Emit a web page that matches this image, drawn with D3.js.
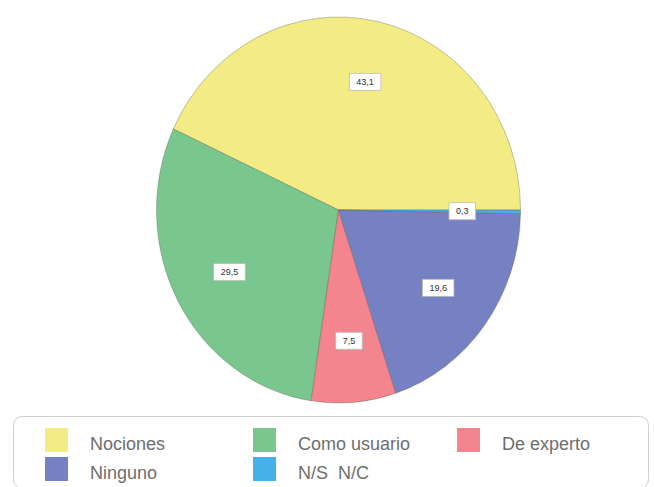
<!DOCTYPE html>
<html>
<head>
<meta charset="utf-8">
<script src="https://cdn.jsdelivr.net/npm/d3@7"></script>
<style>
  html, body { margin: 0; padding: 0; background: #fff; }
  svg { display: block; }
</style>
</head>
<body>
<svg id="chart" width="654" height="487"></svg>
<script>
// Nivel de conocimiento (%)
const categories = ["Nociones", "Como usuario", "De experto", "Ninguno", "N/S  N/C"];
const values = [43.1, 29.5, 7.5, 19.6, 0.3];
const valueLabels = ["43,1", "29,5", "7,5", "19,6", "0,3"];
const colors = ["#f3ec84", "#79c78e", "#f4848d", "#7681c3", "#45b1e6"];

const svg = d3.select("#chart");
const W = 654, H = 487;

// pie geometry (slightly taller than wide)
const cx = 338.5, cy = 210, rx = 182, ry = 193;
const sy = ry / rx;

const data = categories.map((c, i) => ({ cat: c, value: values[i], label: valueLabels[i], color: colors[i] }));

// slices start at 3 o'clock and run counter-clockwise
const pie = d3.pie()
  .value(d => d.value)
  .sort(null)
  .startAngle(Math.PI / 2)
  .endAngle(Math.PI / 2 - 2 * Math.PI);

const arcs = pie(data);
const arc = d3.arc().innerRadius(0).outerRadius(rx);

const g = svg.append("g").attr("transform", `translate(${cx},${cy}) scale(1,${sy})`);
g.selectAll("path")
  .data(arcs)
  .join("path")
  .attr("d", arc)
  .attr("fill", d => d.data.color)
  .attr("stroke", "rgba(90,90,80,0.45)")
  .attr("stroke-width", 0.8)
  .attr("vector-effect", "non-scaling-stroke");

// value labels in white boxes
const labelArc = d3.arc().innerRadius(rx * 0.68).outerRadius(rx * 0.68);
const lg = svg.append("g").attr("transform", `translate(${cx},${cy})`);
const lab = lg.selectAll("g.lab")
  .data(arcs)
  .join("g")
  .attr("class", "lab")
  .attr("transform", d => {
    const [x, y] = labelArc.centroid(d);
    return `translate(${x},${y * sy})`;
  });

lab.append("text")
  .attr("text-anchor", "middle")
  .attr("dy", "0.35em")
  .attr("font-family", "Liberation Sans, Arial, sans-serif")
  .attr("font-size", 9)
  .attr("fill", "#333")
  .text(d => d.data.label);

lab.each(function() {
  const t = d3.select(this).select("text");
  const bb = t.node().getBBox();
  d3.select(this).insert("rect", "text")
    .attr("x", bb.x - 7)
    .attr("y", -8.5)
    .attr("width", bb.width + 14)
    .attr("height", 17)
    .attr("fill", "#fff")
    .attr("stroke", "#bbb")
    .attr("stroke-width", 0.8);
});

// legend
svg.append("rect")
  .attr("x", 13.5).attr("y", 416.5)
  .attr("width", 635).attr("height", 72)
  .attr("rx", 9)
  .attr("fill", "#fff")
  .attr("stroke", "#cfcfcf")
  .attr("stroke-width", 1);

const colX = [45, 253, 457];
const rowY = [428, 457];
const legend = svg.append("g").selectAll("g")
  .data(data)
  .join("g")
  .attr("transform", (d, i) => `translate(${colX[i % 3]},${rowY[Math.floor(i / 3)]})`);

legend.append("rect")
  .attr("width", 23).attr("height", 24)
  .attr("fill", d => d.color);

legend.append("text")
  .attr("x", 45 - 0).attr("y", 22)
  .attr("font-family", "Liberation Sans, Arial, sans-serif")
  .attr("font-size", 18)
  .attr("fill", "#6e6e6e")
  .attr("xml:space", "preserve")
  .style("white-space", "pre")
  .text(d => d.cat);
</script>
</body>
</html>
